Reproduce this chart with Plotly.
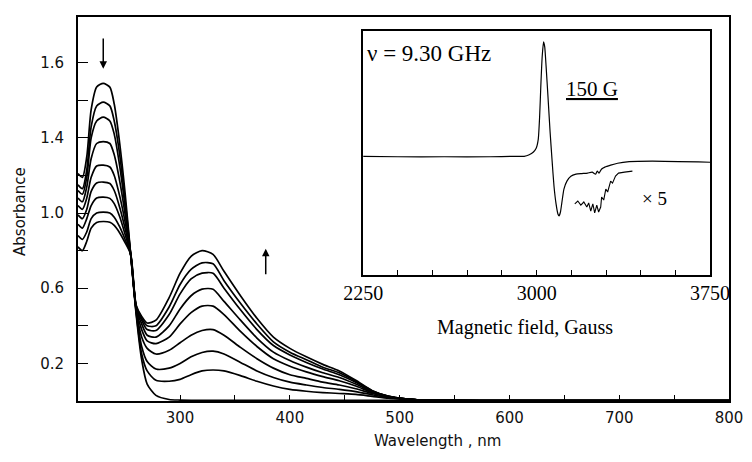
import plotly.graph_objects as go

# ---------------- main UV-vis spectra ----------------
wavelength = [207, 211, 215, 219, 224, 230, 236, 240, 245, 250, 255, 260, 265, 270, 278, 290,
              300, 310, 320, 330, 340, 355, 370, 385, 400, 415, 430, 445, 460, 475, 490, 505,
              520, 540, 600, 700, 800]

abs_t0 = [1.21, 1.19, 1.30, 1.55, 1.67, 1.69, 1.67, 1.58, 1.37, 1.10, 0.78, 0.46, 0.22, 0.09, 0.03, 0.008,
          0.005, 0.004, 0.004, 0.004, 0.004, 0.004, 0.004, 0.004, 0.004, 0.004, 0.004, 0.004, 0.004, 0.004, 0.004, 0.004,
          0.004, 0.003, 0.002, 0.002, 0.002]
abs_t1 = [1.15, 1.13, 1.23, 1.46, 1.57, 1.59, 1.57, 1.49, 1.31, 1.06, 0.78, 0.47, 0.25, 0.16, 0.11, 0.105,
          0.115, 0.14, 0.16, 0.165, 0.16, 0.135, 0.105, 0.08, 0.062, 0.052, 0.045, 0.04, 0.035, 0.025, 0.015, 0.01,
          0.005, 0.003, 0.002, 0.002, 0.002]
abs_t2 = [1.12, 1.10, 1.19, 1.40, 1.49, 1.51, 1.49, 1.42, 1.25, 1.03, 0.78, 0.48, 0.29, 0.21, 0.17, 0.175,
          0.20, 0.235, 0.258, 0.265, 0.25, 0.205, 0.16, 0.125, 0.10, 0.085, 0.072, 0.062, 0.05, 0.033, 0.018, 0.01,
          0.005, 0.003, 0.002, 0.002, 0.002]
abs_t3 = [1.08, 1.06, 1.14, 1.29, 1.37, 1.38, 1.37, 1.31, 1.17, 0.99, 0.78, 0.485, 0.34, 0.28, 0.25, 0.27,
          0.31, 0.35, 0.375, 0.38, 0.35, 0.285, 0.225, 0.175, 0.14, 0.12, 0.10, 0.085, 0.065, 0.04, 0.02, 0.01,
          0.005, 0.003, 0.002, 0.002, 0.002]
abs_t4 = [1.04, 1.02, 1.08, 1.19, 1.25, 1.255, 1.245, 1.20, 1.09, 0.95, 0.78, 0.49, 0.38, 0.32, 0.305, 0.34,
          0.41, 0.47, 0.505, 0.505, 0.46, 0.37, 0.29, 0.225, 0.185, 0.155, 0.13, 0.108, 0.08, 0.045, 0.022, 0.011,
          0.005, 0.003, 0.002, 0.002, 0.002]
abs_t5 = [0.99, 0.97, 1.02, 1.115, 1.16, 1.165, 1.157, 1.12, 1.03, 0.915, 0.78, 0.495, 0.41, 0.35, 0.34, 0.40,
          0.49, 0.56, 0.595, 0.595, 0.53, 0.43, 0.335, 0.26, 0.215, 0.18, 0.15, 0.125, 0.09, 0.05, 0.024, 0.011,
          0.005, 0.003, 0.002, 0.002, 0.002]
abs_t6 = [0.94, 0.92, 0.97, 1.04, 1.08, 1.085, 1.078, 1.05, 0.98, 0.885, 0.78, 0.50, 0.43, 0.38, 0.375, 0.46,
          0.57, 0.65, 0.68, 0.68, 0.60, 0.485, 0.38, 0.295, 0.245, 0.205, 0.17, 0.14, 0.10, 0.052, 0.025, 0.012,
          0.006, 0.003, 0.002, 0.002, 0.002]
abs_t7 = [0.88, 0.86, 0.90, 0.97, 1.00, 1.005, 1.0, 0.978, 0.926, 0.858, 0.78, 0.505, 0.44, 0.40, 0.40, 0.50,
          0.62, 0.70, 0.735, 0.73, 0.64, 0.52, 0.41, 0.315, 0.26, 0.22, 0.18, 0.15, 0.105, 0.055, 0.025, 0.012,
          0.006, 0.003, 0.002, 0.002, 0.002]
abs_t8 = [0.82, 0.80, 0.85, 0.92, 0.95, 0.955, 0.951, 0.934, 0.894, 0.841, 0.78, 0.51, 0.45, 0.415, 0.43, 0.55,
          0.68, 0.77, 0.80, 0.78, 0.69, 0.56, 0.44, 0.34, 0.28, 0.235, 0.195, 0.16, 0.11, 0.055, 0.025, 0.012,
          0.006, 0.003, 0.002, 0.002, 0.002]
spectra = [abs_t0, abs_t1, abs_t2, abs_t3, abs_t4, abs_t5, abs_t6, abs_t7, abs_t8]

x_tickvals = [300, 350, 400, 450, 500, 550, 600, 650, 700, 750, 800]
x_ticktext = ["300", "", "400", "", "500", "", "600", "", "700", "", "800"]
y_tickvals = [0.2, 0.4, 0.6, 0.8, 1.0, 1.2, 1.4, 1.6, 1.8]
y_ticktext = ["0.2", "", "0.6", "", "1.0", "", "1.4", "", "1.6"]

# ---------------- inset EPR spectrum ----------------
field = [2250, 2400, 2600, 2800, 2900, 2946, 2968, 2985, 2998, 3007, 3013, 3018, 3024, 3030, 3035,
         3041, 3049, 3058, 3067, 3075, 3084, 3092, 3097, 3103, 3110, 3118, 3131, 3148, 3170, 3195,
         3220, 3240, 3255, 3262, 3270, 3280, 3295, 3320, 3350, 3400, 3500, 3750]
epr_signal = [-0.029, -0.033, -0.033, -0.033, -0.029, -0.029, -0.016, 0.004, 0.037, 0.11, 0.298, 0.543,
              0.788, 0.91, 0.869, 0.706, 0.461, 0.176, -0.069, -0.273, -0.42, -0.502, -0.518, -0.486,
              -0.396, -0.298, -0.233, -0.192, -0.176, -0.171, -0.167, -0.159, -0.176, -0.151, -0.167,
              -0.135, -0.118, -0.102, -0.086, -0.073, -0.069, -0.078]
field_x5 = [3165, 3178, 3191, 3204, 3217, 3225, 3234, 3243, 3251, 3260, 3268, 3277, 3281, 3290, 3299,
            3307, 3320, 3328, 3341, 3354, 3380, 3414]
epr_x5 = [-0.42, -0.396, -0.429, -0.404, -0.445, -0.412, -0.478, -0.42, -0.494, -0.429, -0.486, -0.445,
          -0.363, -0.388, -0.298, -0.322, -0.233, -0.249, -0.192, -0.167, -0.159, -0.151]
inset_tickvals = [2250, 2400, 2550, 2700, 2850, 3000, 3150, 3300, 3450, 3600, 3750]
inset_ticktext = ["2250", "", "", "", "", "3000", "", "", "", "", "3750"]

fig = go.Figure()
for s in spectra:
    fig.add_trace(go.Scatter(x=wavelength, y=s, mode="lines", xaxis="x", yaxis="y",
                             line=dict(color="black", width=1.7, shape="spline", smoothing=0.7),
                             showlegend=False, hoverinfo="skip"))
fig.add_trace(go.Scatter(x=field, y=epr_signal, mode="lines", xaxis="x2", yaxis="y2",
                         line=dict(color="black", width=1.2, shape="spline", smoothing=0.5),
                         showlegend=False, hoverinfo="skip"))
fig.add_trace(go.Scatter(x=field_x5, y=epr_x5, mode="lines", xaxis="x2", yaxis="y2",
                         line=dict(color="black", width=1.1),
                         showlegend=False, hoverinfo="skip"))

sans = "DejaVu Sans"
serif = "Liberation Serif"

fig.update_layout(
    width=752, height=462,
    margin=dict(l=70, r=31, t=7, b=69),
    paper_bgcolor="white", plot_bgcolor="white",
    xaxis=dict(domain=[0, 1], range=[207, 800], showline=True, linecolor="black", linewidth=1.8,
               mirror=True, ticks="inside", ticklen=6, tickwidth=1.3, tickcolor="black",
               tickvals=x_tickvals, ticktext=x_ticktext, showgrid=False, zeroline=False,
               tickfont=dict(family=sans, size=15, color="#111"), ticklabelstandoff=2),
    yaxis=dict(domain=[0, 1], range=[0, 2.043], showline=True, linecolor="black", linewidth=1.8,
               mirror=True, ticks="inside", ticklen=10, tickwidth=1.3, tickcolor="black",
               tickvals=y_tickvals, ticktext=y_ticktext, showgrid=False, zeroline=False,
               tickfont=dict(family=sans, size=15, color="#111"), ticklabelstandoff=9),
    xaxis2=dict(domain=[0.438, 0.971], anchor="y2", range=[2250, 3750], showline=True,
                linecolor="black", linewidth=1.5, mirror=True, ticks="inside", ticklen=5,
                tickwidth=1.1, tickcolor="black", tickvals=inset_tickvals, ticktext=inset_ticktext,
                showgrid=False, zeroline=False,
                tickfont=dict(family=serif, size=20, color="black"), ticklabelstandoff=0),
    yaxis2=dict(domain=[0.329, 0.964], anchor="x2", range=[-1, 1], showline=True,
                linecolor="black", linewidth=1.5, mirror=True, ticks="", showticklabels=False,
                showgrid=False, zeroline=False),
)

annotations = [
    dict(text="Absorbance", xref="paper", yref="paper", x=-0.0891, y=0.495, textangle=-90,
         showarrow=False, font=dict(family=sans, size=15, color="#111"), xanchor="center", yanchor="middle"),
    dict(text="Wavelength , nm", xref="paper", yref="paper", x=0.5515, y=-0.103,
         showarrow=False, font=dict(family=sans, size=15, color="#111"), xanchor="center", yanchor="middle"),
    dict(text="ν = 9.30 GHz", xref="paper", yref="paper", x=0.4409, y=0.904,
         showarrow=False, font=dict(family=serif, size=23, color="black"), xanchor="left", yanchor="middle"),
    dict(text="<u>150 G</u>", xref="paper", yref="paper", x=0.7896, y=0.813,
         showarrow=False, font=dict(family=serif, size=21, color="black"), xanchor="center", yanchor="middle"),
    dict(text="× 5", xref="paper", yref="paper", x=0.8633, y=0.528,
         showarrow=False, font=dict(family=serif, size=19, color="black"), xanchor="left", yanchor="middle"),
    dict(text="Magnetic field, Gauss", xref="paper", yref="paper", x=0.6866, y=0.192,
         showarrow=False, font=dict(family=serif, size=20, color="black"), xanchor="center", yanchor="middle"),
    # arrows showing direction of change
    dict(text="", x=230, y=1.768, ax=230, ay=1.937, xref="x", yref="y", axref="x", ayref="y",
         showarrow=True, arrowhead=2, arrowsize=1, arrowwidth=1.5, arrowcolor="black"),
    dict(text="", x=378, y=0.81, ax=378, ay=0.667, xref="x", yref="y", axref="x", ayref="y",
         showarrow=True, arrowhead=2, arrowsize=1, arrowwidth=1.5, arrowcolor="black"),
]
fig.update_layout(annotations=annotations)

fig.write_html("out.html")
